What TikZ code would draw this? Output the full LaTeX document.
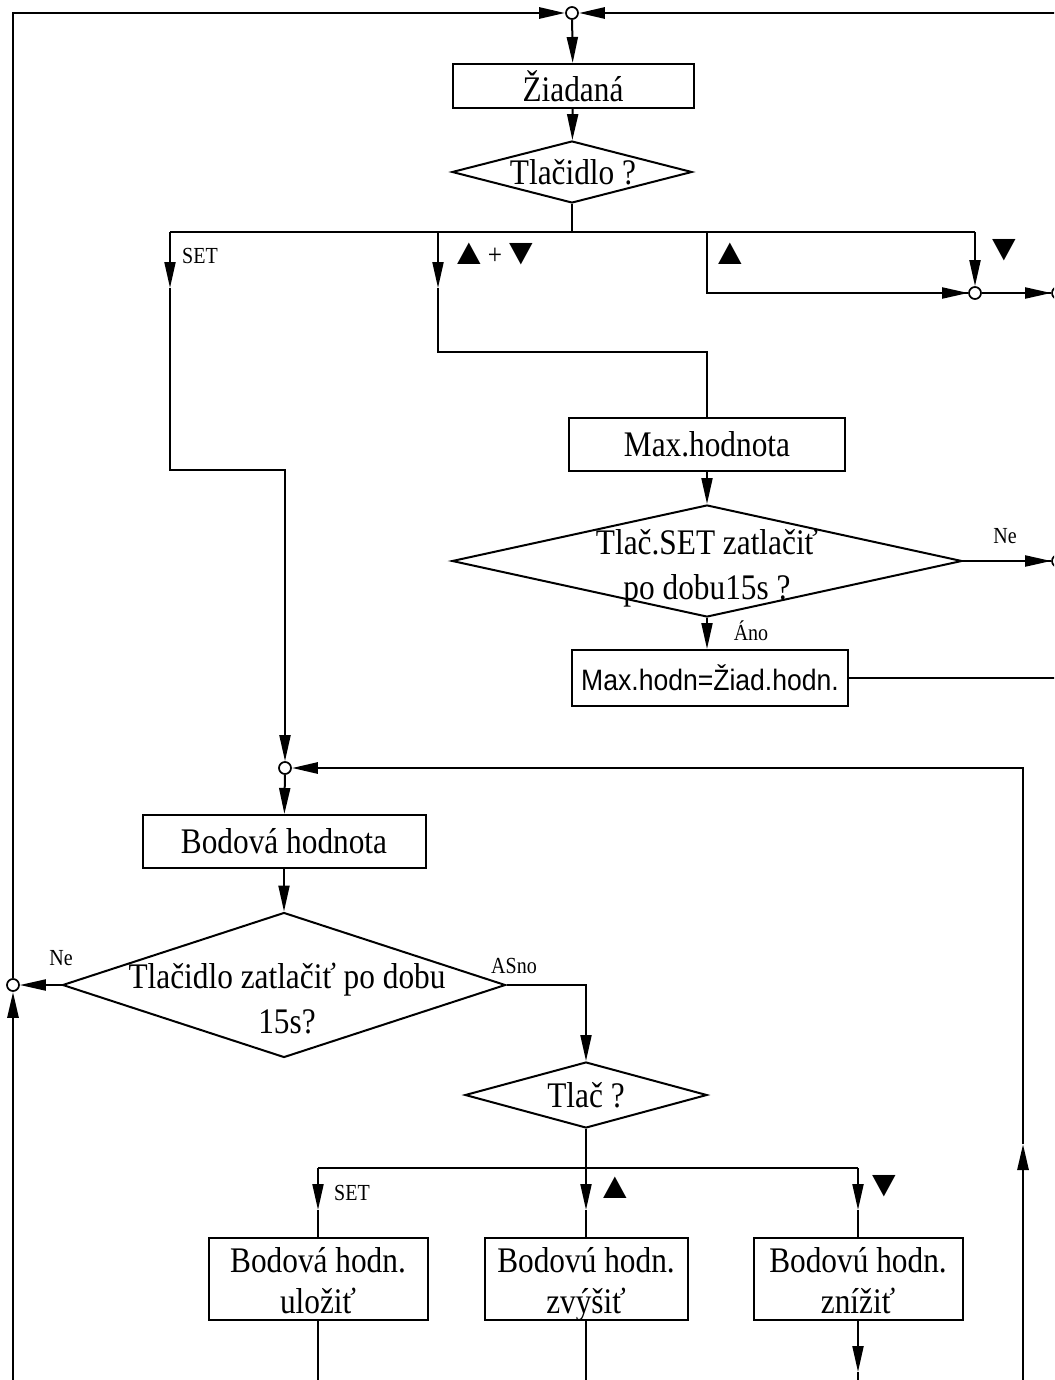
\documentclass[tikz,border=0pt]{standalone}
\usepackage{fontspec}
\setmainfont{Liberation Serif}[FakeStretch=0.87]
\newfontfamily\sansf{Liberation Sans}[FakeStretch=0.9]
\usetikzlibrary{arrows.meta,shapes.geometric}
\newcommand\mytri[1]{{\fontsize{46}{46}\selectfont\scalebox{1}[0.8]{#1}}}
\begin{document}
\begin{tikzpicture}[x=1pt,y=-1pt,
 ln/.style={line width=2pt},
 thk/.style={line width=2.8pt},
 arr/.style={ln,-{Triangle[length=26pt,width=11pt]}},
 box/.style={draw,ln,rectangle,inner sep=0pt,align=center,font=\fontsize{36}{42}\selectfont},
 box2/.style={box,font=\fontsize{36}{41}\selectfont},
 dia/.style={draw,ln,diamond,inner sep=0pt},
 dtext/.style={inner sep=0pt,align=center,font=\fontsize{36}{45}\selectfont},
 lab/.style={inner sep=0pt,font=\fontsize{23}{26}\selectfont},
 junc/.style={circle,draw,fill=white,line width=1.7pt,minimum size=12pt,inner sep=0pt}]

\useasboundingbox (0,0) rectangle (1054,1380);
\clip (0,0) rectangle (1054,1380);
\fill[white] (0,0) rectangle (1054,1380);

% ---------- nodes ----------
\node[junc] (c0) at (572,13) {};
\node[box,minimum width=241pt,minimum height=44pt] (zia) at (573,86) {Žiadaná};
\node[dia,minimum width=240pt,minimum height=62pt] (d1) at (572,172) {};
\node[dtext] (t1) at (573,172) {Tlačidlo ?};

\node[junc] (cR1) at (975,293) {};
\node[junc] (cR2) at (1058,293) {};

\node[box,minimum width=276pt,minimum height=53pt] (maxh) at (707,444.5) {Max.hodnota};
\node[dia,minimum width=510pt,minimum height=112pt] (d2) at (707,561) {};
\node[dtext] (t2) at (707,568) {Tlač.SET zatlačiť\\po dobu15s ?};
\node[junc] (cR3) at (1058,561) {};
\node[box,minimum width=276pt,minimum height=56pt,font=\sansf\fontsize{29.5}{32}\selectfont] (maxz) at (710,678) {Max.hodn=Žiad.hodn.};

\node[junc] (cM) at (285,768) {};
\node[box,minimum width=283pt,minimum height=53pt] (bod) at (284,841.5) {Bodová hodnota};
\node[dia,minimum width=443pt,minimum height=145pt] (d3) at (284,985) {};
\node[dtext] (t3) at (287,999) {Tlačidlo zatlačiť po dobu\\15s?};
\node[junc] (cL) at (13,985) {};
\node[dia,minimum width=242pt,minimum height=66pt] (d4) at (586,1095) {};
\node[dtext] (t4) at (586,1095) {Tlač ?};

\node[box2,minimum width=219pt,minimum height=82pt] (b1) at (318,1279) {\rule{0pt}{28pt}Bodová hodn.\\\smash{uložiť}};
\node[box2,minimum width=203pt,minimum height=82pt] (b2) at (586,1279) {\rule{0pt}{28pt}Bodovú hodn.\\\smash{zvýšiť}};
\node[box2,minimum width=209pt,minimum height=82pt] (b3) at (858,1279) {\rule{0pt}{28pt}Bodovú hodn.\\\smash{znížiť}};

% ---------- labels ----------
\node[lab,anchor=west] (lset1) at (182,256) {SET};
\node[lab,anchor=west] (lud) at (449,254) {\mytri{▲}\hspace{-1pt}{\fontsize{29}{29}\selectfont +}\hspace{-1pt}\mytri{▼}};
\node[lab] (lup1) at (730,254) {\mytri{▲}};
\node[lab] (ldn1) at (1004,250) {\mytri{▼}};
\node[lab] (lne1) at (1005,536) {Ne};
\node[lab] (lano) at (751,631) {Áno};
\node[lab] (lne2) at (61,958) {Ne};
\node[lab] (lasno) at (514,966) {ASno};
\node[lab,anchor=west] (lset2) at (334,1193) {SET};
\node[lab] (lup2) at (615,1188) {\mytri{▲}};
\node[lab] (ldn2) at (884,1186) {\mytri{▼}};

% ---------- connectors ----------
\coordinate (tl) at (13,13);
\coordinate (tr) at (1062,13);
\draw[thk,-{Triangle[length=26pt,width=11pt]}] (cL) -- (tl) -- (c0);
\draw[thk,-{Triangle[length=26pt,width=11pt]}] (tr) -- (c0);
\draw[arr] (c0) -- (zia);
\draw[arr] (zia) -- (d1);
\coordinate (j1) at (572,232);
\draw[ln] (d1.south) -- (j1);
\coordinate (bA) at (170,232);
\coordinate (bD) at (975,232);
\draw[ln] (bA) -- (bD);

% SET branch
\coordinate (sA) at (170,288);
\draw[arr] (bA) -- (sA);
\draw[arr] (sA) -- (170,470) -- (285,470) -- (cM);

% up+down branch
\coordinate (bB) at (438,232);
\coordinate (sB) at (438,288);
\draw[arr] (bB) -- (sB);
\draw[ln] (sB) -- (438,352) -- (707,352) -- (maxh.north);

% up branch
\coordinate (bC) at (707,232);
\coordinate (hk) at (848,293);
\draw[arr] (bC) -- (707,293) -- (cR1);
\draw[thk] (hk) -- (cR1.west);
% down branch
\draw[arr] (bD) -- (cR1);
\draw[arr] (cR1) -- (cR2);
\coordinate (hk2) at (1003,293);
\draw[thk] (hk2) -- (cR2.west);

\draw[arr] (maxh) -- (d2);
\draw[arr] (d2.south) -- (d2.south |- maxz.north);
\draw[arr] (d2.east) -- (cR3);
\coordinate (hk3) at (983,561);
\draw[thk] (hk3) -- (cR3.west);
\coordinate (mr) at (1062,678);
\draw[ln] (maxz.east) -- (mr);

% right return loop
\coordinate (rb) at (1023,1385);
\coordinate (ra) at (1023,1144);
\draw[thk,-{Triangle[length=26pt,width=11pt]}] (rb) -- (ra);
\draw[thk,-{Triangle[length=26pt,width=11pt]}] (ra) -- (1023,768) -- (cM);

\draw[arr] (cM) -- (bod);
\draw[arr] (bod) -- (d3);
\draw[arr] (d3.west) -- (cL);
\coordinate (lb) at (13,1385);
\draw[thk,-{Triangle[length=26pt,width=11pt]}] (lb) -- (cL);
\draw[arr] (d3.east) -- (586,985) -- (d4.north);

\coordinate (j2) at (586,1168);
\draw[ln] (d4.south) -- (j2);
\coordinate (k1) at (318,1168);
\coordinate (k3) at (858,1168);
\draw[ln] (k1) -- (k3);
\coordinate (m1) at (318,1210);
\coordinate (m2) at (586,1210);
\coordinate (m3) at (858,1210);
\draw[arr] (k1) -- (m1);
\draw[ln] (m1) -- (b1.north);
\draw[arr] (j2) -- (m2);
\draw[ln] (m2) -- (b2.north);
\draw[arr] (k3) -- (m3);
\draw[ln] (m3) -- (b3.north);

\coordinate (e1) at (318,1385);
\coordinate (e2) at (586,1385);
\coordinate (e3) at (858,1372);
\coordinate (e3b) at (858,1385);
\draw[ln] (b1.south) -- (e1);
\draw[ln] (b2.south) -- (e2);
\draw[arr] (b3.south) -- (e3);
\draw[ln] (e3) -- (e3b);
\end{tikzpicture}
\end{document}
